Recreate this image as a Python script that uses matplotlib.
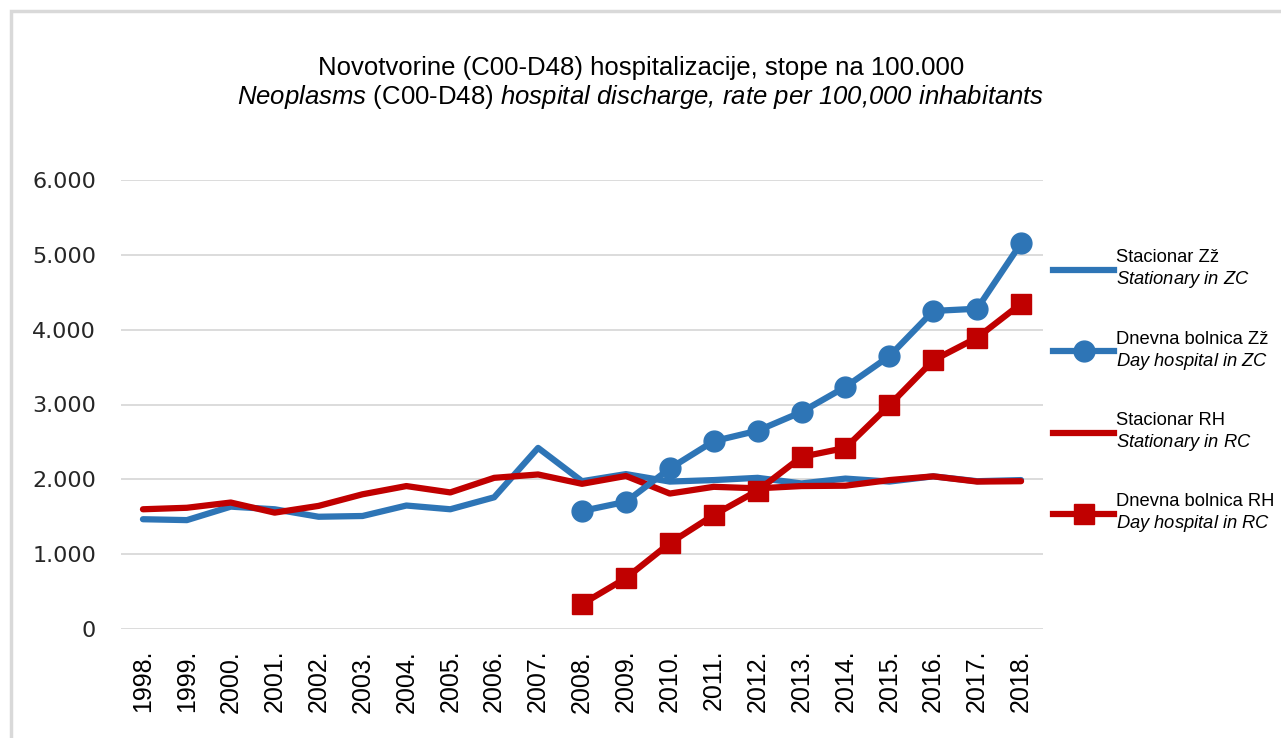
import numpy as np
import matplotlib.pyplot as plt
from matplotlib.lines import Line2D
from matplotlib.patches import Rectangle

# ---------------- data ----------------
years = ["1998.", "1999.", "2000.", "2001.", "2002.", "2003.", "2004.", "2005.", "2006.", "2007.",
         "2008.", "2009.", "2010.", "2011.", "2012.", "2013.", "2014.", "2015.", "2016.", "2017.", "2018."]

stac_zz = [1467, 1455, 1635, 1600, 1500, 1510, 1650, 1600, 1760, 2420,
           1975, 2070, 1970, 1990, 2020, 1945, 2010, 1970, 2040, 1975, 1990]
stac_rh = [1600, 1620, 1690, 1555, 1645, 1800, 1910, 1825, 2020, 2065,
           1940, 2045, 1810, 1900, 1880, 1910, 1915, 1990, 2040, 1970, 1975]
# day hospital only from 2008 on
dnevna_zz = [np.nan] * 10 + [1577, 1700, 2145, 2510, 2650, 2900, 3235, 3645, 4250, 4280, 5155]
dnevna_rh = [np.nan] * 10 + [333, 680, 1147, 1523, 1850, 2300, 2420, 2990, 3590, 3893, 4347]

yticks = [0, 1000, 2000, 3000, 4000, 5000, 6000]
ytick_labels = ["0", "1.000", "2.000", "3.000", "4.000", "5.000", "6.000"]

title_hr = "Novotvorine (C00-D48) hospitalizacije, stope na 100.000"
title_en = (r"$\mathit{Neoplasms}$ (C00-D48) "
            r"$\mathit{hospital\ discharge{,}\ rate\ per\ 100{,}000\ inhabitants}$")

labels = ["Stacionar Zž\n$\\mathit{Stationary\\ in\\ ZC}$",
          "Dnevna bolnica Zž\n$\\mathit{Day\\ hospital\\ in\\ ZC}$",
          "Stacionar RH\n$\\mathit{Stationary\\ in\\ RC}$",
          "Dnevna bolnica RH\n$\\mathit{Day\\ hospital\\ in\\ RC}$"]

BLUE = "#2E75B6"
RED = "#C00000"
GRID = "#d9d9d9"
SANS = ["Liberation Sans", "DejaVu Sans"]

# mathtext is only used for the italic parts, so digits/commas there go italic too
plt.rcParams["mathtext.fontset"] = "custom"
plt.rcParams["mathtext.it"] = "Liberation Sans:italic"
plt.rcParams["mathtext.rm"] = "Liberation Sans:italic"

# ---------------- figure ----------------
W, H = 1281, 738
fig = plt.figure(figsize=(W / 100, H / 100), dpi=100)
ax = fig.add_axes([121 / W, 1 - 629 / H, (1043 - 121) / W, (629 - 180) / H])

x = np.arange(len(years))
ax.plot(x, stac_zz, color=BLUE, lw=4.5, solid_capstyle="round", zorder=3)
ax.plot(x, dnevna_zz, color=BLUE, lw=4.5, marker="o", ms=15, zorder=4)
ax.plot(x, stac_rh, color=RED, lw=4.5, solid_capstyle="round", zorder=3)
ax.plot(x, dnevna_rh, color=RED, lw=4.5, marker="s", ms=14, zorder=5)

ax.set_xlim(-0.5, len(years) - 0.5)
ax.set_ylim(0, 6000)
ax.set_yticks(yticks)
ax.set_yticklabels(ytick_labels, fontsize=16, color="#262626")
ax.set_xticks(x)
ax.set_xticklabels(years, rotation=90, fontsize=18, family=SANS)
ax.tick_params(axis="both", length=0)
ax.tick_params(axis="y", pad=18)
ax.tick_params(axis="x", pad=15)
ax.grid(axis="y", color=GRID, lw=1.3)
ax.set_axisbelow(True)
for s in ax.spines.values():
    s.set_visible(False)

# title, two lines
fig.text(641 / W, 1 - 68 / H, title_hr, ha="center", va="center", fontsize=18.5, family=SANS)
fig.text(641 / W, 1 - 97 / H, title_en, ha="center", va="center", fontsize=18.5, family=SANS)

# legend
handles = [Line2D([], [], color=BLUE, lw=4.5),
           Line2D([], [], color=BLUE, lw=4.5, marker="o", ms=15),
           Line2D([], [], color=RED, lw=4.5),
           Line2D([], [], color=RED, lw=4.5, marker="s", ms=14)]
leg = fig.legend(handles, labels, loc="upper left", bbox_to_anchor=(1046 / W, 1 - 242 / H),
                 frameon=False, prop={"family": SANS, "size": 13.2}, handlelength=3.3,
                 handletextpad=0.1, labelspacing=2.2, borderaxespad=0)

# light frame around the chart area
fig.patches.append(Rectangle((11 / W, -0.1), 1.2, 1 - 11 / H + 0.1, transform=fig.transFigure,
                             fill=False, ec=GRID, lw=2.5))

fig.savefig("out.png", dpi=100)
